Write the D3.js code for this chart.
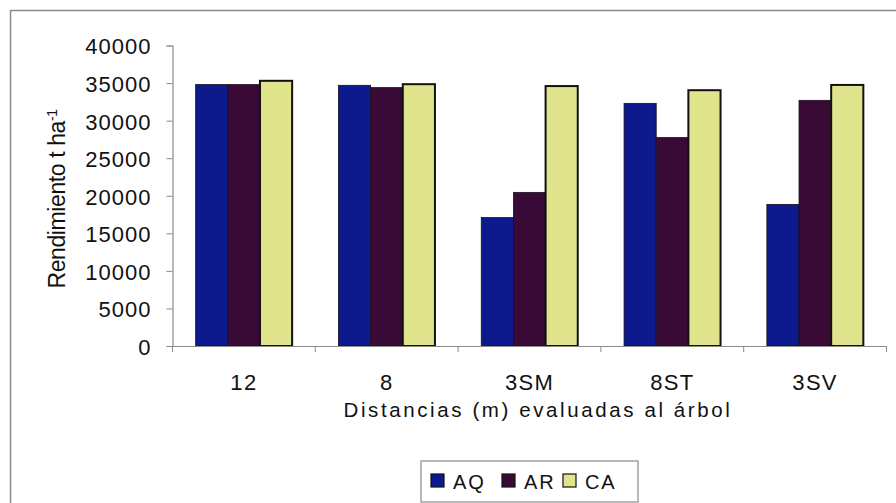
<!DOCTYPE html>
<html>
<head>
<meta charset="utf-8">
<script src="https://cdn.jsdelivr.net/npm/d3@7"></script>
<style>
  html, body { margin: 0; padding: 0; background: #ffffff; }
  svg { display: block; font-family: "Liberation Sans", Arial, sans-serif; }
</style>
</head>
<body>
<svg id="chart" width="896" height="503"></svg>
<script>
// Yield (t/ha) by distance to the tree, three systems
const categories = ["12", "8", "3SM", "8ST", "3SV"];
const seriesNames = ["AQ", "AR", "CA"];
const valuesAQ = [34800, 34700, 17100, 32300, 18850];
const valuesAR = [34800, 34400, 20450, 27750, 32700];
const valuesCA = [35300, 34850, 34600, 34050, 34750];
const yTicks = [0, 5000, 10000, 15000, 20000, 25000, 30000, 35000, 40000];

const seriesValues = { AQ: valuesAQ, AR: valuesAR, CA: valuesCA };
const colors = { AQ: "#0c1a8e", AR: "#3a0a36", CA: "#e0e48c" };

const svg = d3.select("#chart");

// outer chart frame (cropped on right and bottom)
svg.append("rect")
  .attr("x", 10.5).attr("y", 10.5)
  .attr("width", 900).attr("height", 520)
  .attr("fill", "#ffffff")
  .attr("stroke", "#8a8a8a").attr("stroke-width", 1.5);

const plot = { left: 172.5, right: 886.5, top: 45.5, bottom: 346 };

const x = d3.scaleBand().domain(categories).range([plot.left, plot.right]).padding(0);
const xs = d3.scaleBand().domain(seriesNames).range([0, x.bandwidth()])
  .paddingInner(0).paddingOuter(0.72);
const y = d3.scaleLinear().domain([0, 40000]).range([plot.bottom, plot.top]);

// bars
const groups = svg.append("g").selectAll("g")
  .data(categories)
  .join("g")
  .attr("transform", d => `translate(${x(d)},0)`);

groups.selectAll("rect")
  .data((c, i) => seriesNames.map(s => ({ s, v: seriesValues[s][i] })))
  .join("rect")
  .attr("x", d => xs(d.s))
  .attr("y", d => y(d.v))
  .attr("width", xs.bandwidth())
  .attr("height", d => y(0) - y(d.v))
  .attr("fill", d => colors[d.s])
  .attr("stroke", d => d.s === "CA" ? "#111111" : "#1a1020")
  .attr("stroke-width", d => d.s === "CA" ? 2 : 0.8);

// y axis
const yAxis = svg.append("g")
  .attr("transform", `translate(${plot.left},0)`)
  .call(d3.axisLeft(y).tickValues(yTicks).tickSize(6).tickPadding(15).tickFormat(d3.format("d")));
yAxis.select(".domain").attr("stroke", "#8c8c8c").attr("stroke-width", 1.2);
yAxis.selectAll(".tick line").attr("stroke", "#8c8c8c");
yAxis.selectAll(".tick text")
  .attr("fill", "#111111")
  .attr("dy", "0.38em")
  .style("font-size", "22px")
  .style("letter-spacing", "1px");

// x axis with ticks at category boundaries
const xAxis = svg.append("g")
  .attr("transform", `translate(0,${plot.bottom})`)
  .call(d3.axisBottom(x).tickSize(0).tickPadding(0));
xAxis.select(".domain").attr("stroke", "#8c8c8c").attr("stroke-width", 1.2);
xAxis.selectAll(".tick text")
  .attr("y", 44).attr("dy", 0)
  .attr("fill", "#111111")
  .style("font-size", "22px")
  .style("letter-spacing", "1.3px");
const bounds = categories.map(c => x(c)).concat([x(categories[categories.length - 1]) + x.bandwidth()]);
xAxis.selectAll("line.bound")
  .data(bounds)
  .join("line")
  .attr("class", "bound")
  .attr("x1", d => d).attr("x2", d => d)
  .attr("y1", 0).attr("y2", 6)
  .attr("stroke", "#8c8c8c");

// axis titles
svg.append("text")
  .attr("x", 538)
  .attr("y", 417)
  .attr("text-anchor", "middle")
  .attr("fill", "#111111")
  .style("font-size", "20.5px")
  .style("letter-spacing", "2.6px")
  .text("Distancias (m) evaluadas al árbol");

const yt = svg.append("text")
  .attr("transform", `translate(65,199) rotate(-90)`)
  .attr("text-anchor", "middle")
  .attr("fill", "#111111")
  .style("font-size", "23px")
  .style("letter-spacing", "-0.4px");
yt.append("tspan").text("Rendimiento t ha");
yt.append("tspan").attr("dy", "-0.55em").style("font-size", "14px").text("-1");

// legend
const legend = svg.append("g");
legend.append("rect")
  .attr("x", 421).attr("y", 461)
  .attr("width", 217).attr("height", 41)
  .attr("fill", "#ffffff")
  .attr("stroke", "#8a8a8a").attr("stroke-width", 1.2);
const legendX = { AQ: 431, AR: 502, CA: 563 };
const items = legend.selectAll("g.item")
  .data(seriesNames)
  .join("g")
  .attr("class", "item")
  .attr("transform", d => `translate(${legendX[d]},0)`);
items.append("rect")
  .attr("x", 0).attr("y", 474)
  .attr("width", 13).attr("height", 13)
  .attr("fill", d => colors[d])
  .attr("stroke", "#111111").attr("stroke-width", 1.2);
items.append("text")
  .attr("x", 22).attr("y", 489)
  .attr("fill", "#111111")
  .style("font-size", "20px")
  .style("letter-spacing", "1.8px")
  .text(d => d);
</script>
</body>
</html>
